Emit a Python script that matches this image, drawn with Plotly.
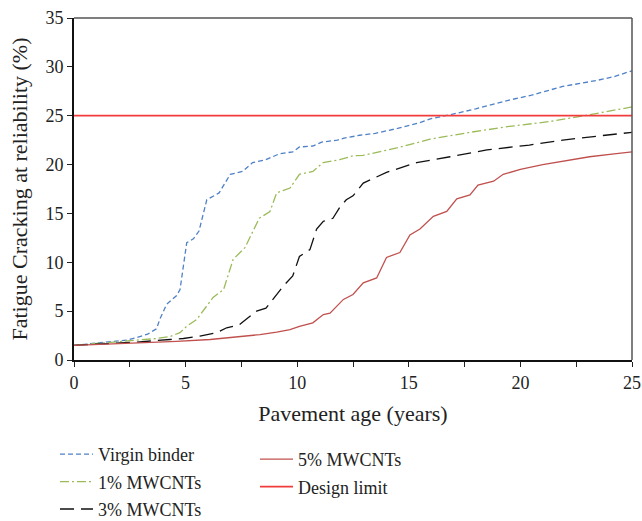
import plotly.graph_objects as go

# Pavement age (years) and fatigue cracking (%)
virgin_x = [0, 0.9, 1.6, 2.4, 2.8, 3.3, 3.7, 3.85, 4.15, 4.6, 4.75, 5.05, 5.35, 5.6, 5.95, 6.5, 7.0, 7.55, 8.0, 8.6,
            9.2, 9.8, 10.1, 10.7, 11.1, 11.8, 12.1, 12.8, 13.5, 14.5, 15.5, 16.0, 16.85, 18.0, 19.5, 20.5, 21.9,
            23.4, 24.2, 25.0]
virgin_y = [1.5, 1.7, 1.85, 2.05, 2.3, 2.65, 3.2, 4.2, 5.7, 6.6, 7.2, 12.0, 12.4, 13.2, 16.4, 17.1, 19.0, 19.3, 20.2,
            20.5, 21.1, 21.3, 21.8, 21.9, 22.3, 22.5, 22.7, 23.0, 23.2, 23.7, 24.3, 24.7, 25.1, 25.7, 26.6, 27.1,
            28.0, 28.6, 29.0, 29.6]

mw1_x = [0, 0.87, 2.36, 3.7, 4.3, 4.75, 5.05, 5.5, 5.94, 6.23, 6.7, 7.13, 7.66, 8.03, 8.3, 8.78, 9.08, 9.68, 10.1,
         10.7, 11.16, 11.9, 12.5, 12.96, 14.46, 15.95, 17.74, 19.5, 21.3, 23.1, 25.0]
mw1_y = [1.5, 1.65, 1.92, 2.2, 2.4, 2.8, 3.45, 4.15, 5.5, 6.4, 7.2, 10.3, 11.5, 13.3, 14.5, 15.2, 17.1, 17.6, 19.0,
         19.3, 20.2, 20.5, 20.9, 20.95, 21.7, 22.6, 23.3, 23.9, 24.4, 25.1, 25.9]

mw3_x = [0, 0.87, 2.8, 4.3, 4.9, 5.64, 6.39, 6.84, 7.4, 7.7, 8.18, 8.6, 8.9, 9.37, 9.8, 10.1, 10.57, 10.87, 11.17,
         11.6, 11.9, 12.2, 12.5, 12.96, 14.0, 15.35, 16.85, 18.5, 20.4, 21.9, 23.4, 25.0]
mw3_y = [1.5, 1.6, 1.83, 2.1, 2.2, 2.45, 2.8, 3.3, 3.6, 4.15, 5.0, 5.3, 6.2, 7.55, 8.6, 10.6, 11.3, 13.4, 14.2,
         14.5, 15.6, 16.4, 16.8, 18.1, 19.2, 20.2, 20.8, 21.5, 22.0, 22.5, 22.9, 23.3]

mw5_x = [0, 2.36, 4.6, 6.1, 7.3, 8.33, 9.08, 9.68, 10.1, 10.7, 11.17, 11.47, 12.07, 12.5, 12.96, 13.56, 14.0, 14.6,
         15.05, 15.5, 16.1, 16.7, 17.15, 17.74, 18.1, 18.8, 19.23, 20.0, 21.0, 22.1, 23.1, 24.2, 25.0]
mw5_y = [1.5, 1.7, 1.9, 2.1, 2.37, 2.6, 2.85, 3.1, 3.45, 3.8, 4.65, 4.8, 6.2, 6.7, 7.9, 8.4, 10.5, 11.0, 12.8,
         13.4, 14.7, 15.2, 16.5, 16.9, 17.9, 18.3, 19.0, 19.5, 20.0, 20.4, 20.8, 21.1, 21.3]

limit_x = [0, 25]
limit_y = [25, 25]

FONT = "Liberation Serif"

# plot area in pixels (used only for placing the legends)
PL, PR, PT, PB = 74, 632, 18, 360
PW, PH = PR - PL, PB - PT

fig = go.Figure()
fig.add_trace(go.Scatter(x=virgin_x, y=virgin_y, mode="lines", name="Virgin binder",
                         line=dict(color="#4f81c7", width=1.3, dash="5px,3px"),
                         legend="legend", legendgroup="a"))
fig.add_trace(go.Scatter(x=mw1_x, y=mw1_y, mode="lines", name="1% MWCNTs",
                         line=dict(color="#9bbb59", width=1.3, dash="9px,3px,2px,3px"),
                         legend="legend", legendgroup="b"))
fig.add_trace(go.Scatter(x=mw3_x, y=mw3_y, mode="lines", name="3% MWCNTs",
                         line=dict(color="#111111", width=1.3, dash="14px,7px"),
                         legend="legend", legendgroup="c"))
fig.add_trace(go.Scatter(x=mw5_x, y=mw5_y, mode="lines", name="5% MWCNTs",
                         line=dict(color="#c0504d", width=1.3),
                         legend="legend2", legendgroup="d"))
fig.add_trace(go.Scatter(x=limit_x, y=limit_y, mode="lines", name="Design limit",
                         line=dict(color="#f23c3c", width=1.8),
                         legend="legend2", legendgroup="e"))

fig.update_layout(
    width=642, height=521,
    margin=dict(l=PL, r=642 - PR, t=PT, b=521 - PB, autoexpand=False),
    plot_bgcolor="white", paper_bgcolor="white",
    font=dict(family=FONT, size=18, color="#222222"),
    xaxis=dict(range=[0, 25], dtick=5, tick0=0, ticks="outside", ticklen=5, tickwidth=1.3,
               tickcolor="#222", showline=True, linecolor="#111", linewidth=2, showgrid=False,
               zeroline=False, automargin=False,
               minor=dict(dtick=2.5, ticks="outside", ticklen=5, tickwidth=1.3, tickcolor="#222"),
               title=dict(text="Pavement age (years)", standoff=14),
               tickfont=dict(size=18)),
    yaxis=dict(range=[0, 35], dtick=5, ticks="outside", ticklen=5, tickwidth=1.3, tickcolor="#222",
               showline=True, linecolor="#111", linewidth=2, showgrid=False, zeroline=False,
               automargin=False,
               title=dict(text="Fatigue Cracking at reliability (%)", standoff=12),
               tickfont=dict(size=18)),
    legend=dict(x=(55 - PL) / PW, y=(PB - 436) / PH,
                xanchor="left", yanchor="top", orientation="v", itemwidth=33,
                tracegroupgap=1, font=dict(size=18), bgcolor="rgba(0,0,0,0)"),
    legend2=dict(x=(255 - PL) / PW, y=(PB - 441) / PH,
                 xanchor="left", yanchor="top", orientation="v", itemwidth=33,
                 tracegroupgap=1, font=dict(size=18), bgcolor="rgba(0,0,0,0)"),
    shapes=[
        dict(type="line", xref="paper", yref="paper", x0=0, x1=1, y0=1, y1=1,
             line=dict(color="#555555", width=1.5)),
        dict(type="line", xref="paper", yref="paper", x0=1, x1=1, y0=0, y1=1,
             line=dict(color="#555555", width=1.5)),
    ],
)

fig.write_html("out.html")
